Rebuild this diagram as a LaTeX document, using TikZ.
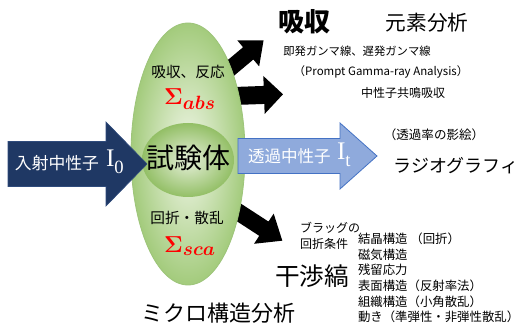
\documentclass[tikz,border=0pt]{standalone}
\usepackage{amsmath}
\usepackage{fontspec}
\setmainfont{Noto Sans CJK JP}
\newfontfamily\serifI{Liberation Serif}
\definecolor{navy}{HTML}{1F3864}
\definecolor{navyedge}{HTML}{2F4B7C}
\definecolor{lblue}{HTML}{8FAADC}
\definecolor{bblue}{HTML}{4472C4}
\definecolor{gout}{HTML}{A3CB7C}
\definecolor{gin}{HTML}{F2F7EA}
\definecolor{gedge}{HTML}{9DC47A}
\definecolor{gcin}{HTML}{E6F0DA}
\definecolor{gcout}{HTML}{93BF66}
\newcommand\myfs[1]{\fontsize{#1}{#1}\selectfont}
% start, angle, length, body half, head half, head length, style
\newcommand\barrow[7]{%
  \begin{scope}[shift={(#1)},rotate=#2]
    \path[#7] (0,-#4) -- ({#3-#6},-#4) -- ({#3-#6},-#5) -- (#3,0)
      -- ({#3-#6},#5) -- ({#3-#6},#4) -- (0,#4) -- cycle;
  \end{scope}}
\tikzset{
  jtext/.style={inner sep=0pt, outer sep=0pt, text=black},
  blk/.style={fill=black},
}
\begin{document}
\begin{tikzpicture}[x=0.75pt,y=-0.75pt]
\useasboundingbox (0,0) rectangle (529,327);
% black arrows (behind ellipse)
\barrow{226,72}{40}{49}{8}{17}{20}{blk}
\barrow{234,96}{2}{49}{9}{19}{19}{blk}
\barrow{232,208}{-33}{60}{8.5}{18}{22}{blk}
% outer ellipse
\path[draw=gedge, line width=0.6pt, inner color=gin, outer color=gout]
  (188,154) ellipse [x radius=57, y radius=131];
\node[jtext] (outer) at (188,154) {};
% inner ellipse
\path[inner color=gcin, outer color=gcout]
  (188,160) ellipse [x radius=46, y radius=37];
\node[jtext, font=\myfs{21pt}] (sample) at (188,158) {試験体};
% incident arrow
\barrow{8,164}{0}{139}{22.5}{42}{41}{fill=navy, draw=navyedge, line width=0.5pt}
\node[jtext, text=white, font=\myfs{12.6pt}, anchor=west] (inc) at (15,163) {入射中性子};
\node[jtext, text=white, anchor=west] (I0) at (106,162) {\serifI\myfs{19pt}I\raisebox{-5pt}{\myfs{14pt}0}};
% transmitted arrow
\barrow{238,156}{0}{139}{17.5}{33}{37}{fill=lblue, draw=bblue, line width=0.6pt}
\node[jtext, text=white, font=\myfs{12.4pt}, anchor=west] (tra) at (248,156) {透過中性子};
\node[jtext, text=white, anchor=west] (It) at (337,155) {\serifI\myfs{19pt}I\raisebox{-5pt}{\myfs{14pt}t}};
% labels in ellipse
\node[jtext, font=\myfs{11pt}] (abs) at (188,72) {吸収、反応};
\node[jtext, text=red] (sabs) at (190,99) {\myfs{19pt}$\boldsymbol{\Sigma_{abs}}$};
\node[jtext, font=\myfs{11pt}] (sca) at (187,218) {回折・散乱};
\node[jtext, text=red] (ssca) at (190,246) {\myfs{19pt}$\boldsymbol{\Sigma_{sca}}$};
% top right texts
\node[jtext, font=\myfs{19.5pt}\bfseries] (kyu) at (304,22) {吸収};
\node[jtext, font=\myfs{15.5pt}] (gen) at (427,23) {元素分析};
\node[jtext, font=\myfs{8.5pt}] (soku) at (357,51) {即発ガンマ線、遅発ガンマ線};
\node[jtext, font=\myfs{8.6pt}] (pga) at (381,72) {（Prompt Gamma-ray Analysis）};
\node[jtext, font=\myfs{9pt}] (kyo) at (403,93) {中性子共鳴吸収};
% right texts
\node[jtext, font=\myfs{9.4pt}] (kage) at (434,135) {（透過率の影絵）};
\node[jtext, font=\myfs{13.5pt}] (radio) at (456,166) {ラジオグラフィ};
% bottom texts
\node[jtext, font=\fontsize{9pt}{12pt}\selectfont, align=left, anchor=north west] (bragg) at (300,222) {ブラッグの\\回折条件};
\node[jtext, font=\myfs{18.5pt}] (kan) at (312,276) {干渉縞};
\node[jtext, font=\fontsize{9.3pt}{11.7pt}\selectfont, align=left, anchor=north west] (list) at (358,233)
  {結晶構造 （回折）\\ 磁気構造\\ 残留応力\\ 表面構造（反射率法）\\ 組織構造（小角散乱）\\ 動き（準弾性・非弾性散乱）};
\node[jtext, font=\myfs{16.5pt}] (micro) at (218,313) {ミクロ構造分析};
\end{tikzpicture}
\end{document}
